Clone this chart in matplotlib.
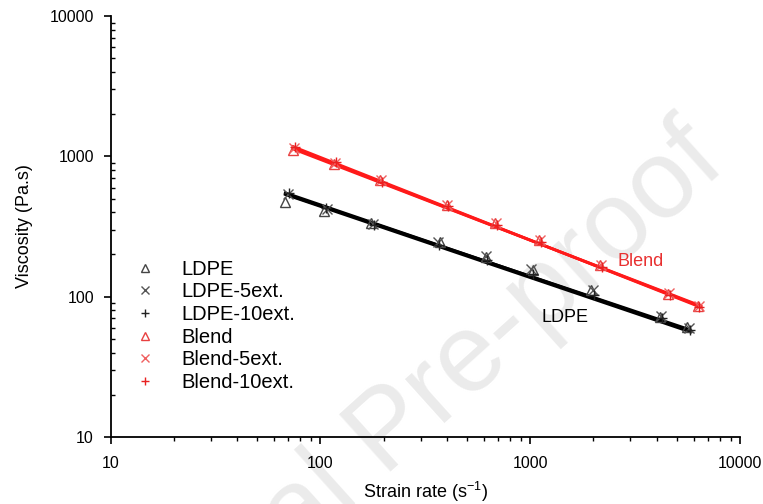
import numpy as np
import matplotlib
matplotlib.use("Agg")
import matplotlib.pyplot as plt

plt.rcParams['font.family'] = ['Liberation Sans', 'DejaVu Sans']

# pontos medidos (taxa de deformacao x viscosidade)
ldpe_x = [68, 104, 175, 372, 618, 1028, 1955, 4130, 5610]
ldpe_y = [477, 405, 334, 247, 193, 155, 112, 72, 61]
ldpe5_x = [70, 107, 178, 362, 612, 1012, 1990, 4180, 5700]
ldpe5_y = [540, 420, 328, 246, 196, 158, 111, 73, 60]
ldpe10_x = [71, 106, 180, 366, 620, 1030, 2020, 4240, 5750]
ldpe10_y = [545, 430, 322, 232, 184, 146, 103, 70, 58]

blend_x = [74, 116, 193, 400, 680, 1100, 2150, 4550, 6300]
blend_y = [1120, 885, 675, 450, 335, 252, 168, 105, 86]
blend5_x = [75, 117, 195, 403, 687, 1114, 2172, 4600, 6340]
blend5_y = [1148, 895, 681, 452, 334, 254, 168, 106, 86]
blend10_x = [76, 118, 197, 406, 692, 1120, 2190, 4650, 6400]
blend10_y = [1165, 905, 660, 440, 325, 246, 163, 103, 84]

# retas ajustadas (inicio e fim)
fit_ldpe_x = [68, 5800]
fit_ldpe_y = [[550, 57], [540, 58], [535, 56]]
fit_blend_x = [74, 6500]
fit_blend_y = [[1175, 84], [1150, 85], [1130, 86]]

fig = plt.figure(figsize=(7.63, 5.04), dpi=100)
ax = fig.add_axes([0.145, 0.133, 0.825, 0.835])
ax.patch.set_alpha(0)

# marca d'agua (atras dos eixos)
fig.text(0.955, 0.667, "Journal Pre-proof", fontsize=80, color="#ebebeb",
         rotation=42, rotation_mode="anchor", ha="right", va="baseline",
         zorder=-1)

for yy in fit_ldpe_y:
    ax.plot(fit_ldpe_x, yy, color="black", linewidth=2.0, zorder=2)
for yy in fit_blend_y:
    ax.plot(fit_blend_x, yy, color="#ff1a1a", linewidth=2.0, zorder=2)

ax.plot(ldpe_x, ldpe_y, linestyle="none", marker="^", markersize=7,
        markerfacecolor="none", markeredgecolor="#444444", label="LDPE")
ax.plot(ldpe5_x, ldpe5_y, linestyle="none", marker="x", markersize=7,
        color="#555555", label="LDPE-5ext.")
ax.plot(ldpe10_x, ldpe10_y, linestyle="none", marker="+", markersize=7,
        color="#222222", label="LDPE-10ext.")
ax.plot(blend_x, blend_y, linestyle="none", marker="^", markersize=7,
        markerfacecolor="none", markeredgecolor="#e84040", label="Blend")
ax.plot(blend5_x, blend5_y, linestyle="none", marker="x", markersize=7,
        color="#f06060", label="Blend-5ext.")
ax.plot(blend10_x, blend10_y, linestyle="none", marker="+", markersize=7,
        color="#e82020", label="Blend-10ext.")

ax.set_xscale("log")
ax.set_yscale("log")
ax.set_xlim(10, 10000)
ax.set_ylim(10, 10000)
ax.set_xticks([10, 100, 1000, 10000])
ax.set_xticklabels(["10", "100", "1000", "10000"])
ax.set_yticks([10, 100, 1000, 10000])
ax.set_yticklabels(["10", "100", "1000", "10000"])

for lado in ["top", "right"]:
    ax.spines[lado].set_visible(False)
ax.spines["left"].set_linewidth(1.3)
ax.spines["bottom"].set_linewidth(1.3)
ax.tick_params(axis="both", which="major", direction="out", length=5, width=1.2,
               labelsize=11.5)
ax.tick_params(axis="x", which="major", pad=9)
ax.tick_params(axis="y", which="major", pad=7)
ax.tick_params(axis="y", which="minor", direction="in", length=3, width=1)
ax.tick_params(axis="x", which="minor", direction="out", length=3, width=1)

ax.set_xlabel("Strain rate (s$^{\\mathregular{-1}}$)", fontsize=13, labelpad=6)
ax.set_ylabel("Viscosity (Pa.s)", fontsize=13, labelpad=12)

ax.text(2600, 178, "Blend", color="#e83030", fontsize=13, va="center")
ax.text(1130, 71, "LDPE", color="black", fontsize=13, va="center")

ax.legend(loc="upper left", bbox_to_anchor=(0.01, 0.464), frameon=False,
          fontsize=14.5, handlelength=1.0, handletextpad=1.3, labelspacing=0.18,
          markerscale=0.85)

fig.savefig("out.png", dpi=100)
